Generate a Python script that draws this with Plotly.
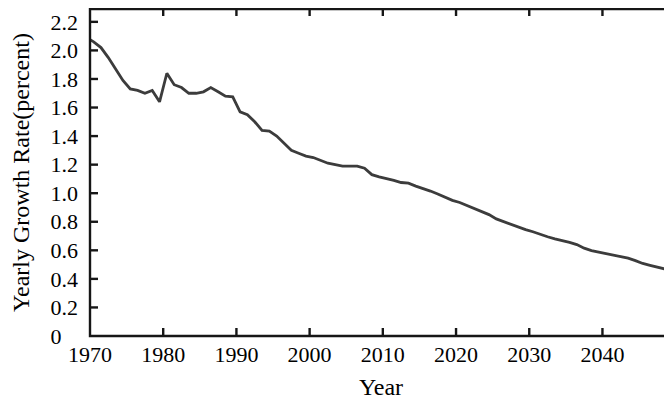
import plotly.graph_objects as go

# mid-year sample points
years = [y + 0.5 for y in range(1969, 2051)]
growth = [
    2.09, 2.06, 2.02, 1.95, 1.87, 1.79, 1.73, 1.72, 1.70, 1.72,
    1.64, 1.84, 1.76, 1.74, 1.70, 1.70, 1.71, 1.74, 1.71, 1.68,
    1.675, 1.57, 1.55, 1.50, 1.44, 1.435, 1.40, 1.35, 1.30, 1.28,
    1.26, 1.25, 1.23, 1.21, 1.20, 1.19, 1.19, 1.19, 1.175, 1.13,
    1.115, 1.105, 1.09, 1.075, 1.07, 1.05, 1.035, 1.015, 0.995, 0.97,
    0.95, 0.935, 0.915, 0.895, 0.875, 0.85, 0.82, 0.80, 0.78, 0.765,
    0.745, 0.73, 0.71, 0.695, 0.68, 0.67, 0.655, 0.64, 0.615, 0.598,
    0.588, 0.578, 0.565, 0.555, 0.545, 0.528, 0.508, 0.495, 0.48, 0.47,
    0.462, 0.45,
]

x_ticks = [1970, 1980, 1990, 2000, 2010, 2020, 2030, 2040]
y_ticks = [0, 0.2, 0.4, 0.6, 0.8, 1.0, 1.2, 1.4, 1.6, 1.8, 2.0, 2.2]
y_tick_text = ["0\u00a0\u00a0\u00a0", "0.2", "0.4", "0.6", "0.8", "1.0",
               "1.2", "1.4", "1.6", "1.8", "2.0", "2.2"]
x_range = [1970, 2049.5]
y_range = [0, 2.29]

FONT = "Liberation Serif"
FRAME = dict(color="#161616", width=2.4)

# ---- geometry (page body has an 8px margin) ----
FIG_W, FIG_H = 664, 393
M_L, M_B, M_T = 79, 62, 0
PA_W, PA_H = FIG_W - M_L, FIG_H - M_B - M_T  # outer (frame) plot area
PAD_L, PAD_B, PAD_T = 3, 3, 1                  # room so frame strokes are not clipped
in_w, in_h = PA_W - PAD_L, PA_H - PAD_B - PAD_T
ux = (x_range[1] - x_range[0]) / in_w          # data units per pixel
uy = (y_range[1] - y_range[0]) / in_h
x2_range = [x_range[0] - PAD_L * ux, x_range[1]]
y2_range = [y_range[0] - PAD_B * uy, y_range[1] + PAD_T * uy]

fig = go.Figure()
fig.add_trace(go.Scatter(
    x=years, y=growth, mode="lines",
    line=dict(color="#3c3c3c", width=2.8),
    showlegend=False, hoverinfo="skip",
))

# frame: top, left, bottom
xl, xr = x_range
yb, yt = y_range
fig.add_trace(go.Scatter(
    x=[xr, xl, xl, xr], y=[yt, yt, yb, yb], mode="lines",
    xaxis="x2", yaxis="y2",
    line=FRAME, showlegend=False, hoverinfo="skip",
))
# ticks
tx, ty = [], []
for xv in x_ticks[1:]:
    tx += [xv, xv, None, xv, xv, None]
    ty += [yb, yb + 8 * uy, None, yt, yt - 7 * uy, None]
for yv in y_ticks[1:]:
    tx += [xl, xl + 8 * ux, None, xr, xr - 3 * ux, None]
    ty += [yv, yv, None, yv, yv, None]
fig.add_trace(go.Scatter(
    x=tx, y=ty, mode="lines", xaxis="x2", yaxis="y2",
    line=FRAME, showlegend=False, hoverinfo="skip",
))

fig.update_layout(
    width=FIG_W, height=FIG_H,
    margin=dict(l=M_L, r=0, t=M_T, b=M_B, autoexpand=False),
    paper_bgcolor="white", plot_bgcolor="rgba(0,0,0,0)",
    font=dict(family=FONT, color="black", size=22),
    xaxis=dict(
        domain=[PAD_L / PA_W, 1], anchor="y",
        range=x_range,
        tickmode="array", tickvals=x_ticks,
        ticks="", showline=False, showgrid=False, zeroline=False,
        tickfont=dict(family=FONT, size=22),
        ticklabelstandoff=3,
        title=dict(text="Year", font=dict(family=FONT, size=24), standoff=12),
    ),
    yaxis=dict(
        domain=[PAD_B / PA_H, 1 - PAD_T / PA_H], anchor="x",
        range=y_range,
        tickmode="array", tickvals=y_ticks, ticktext=y_tick_text,
        ticks="", showline=False, showgrid=False, zeroline=False,
        tickfont=dict(family=FONT, size=22),
        ticklabelstandoff=11,
        title=dict(text="Yearly Growth Rate(percent)", font=dict(family=FONT, size=24), standoff=18),
    ),
    xaxis2=dict(domain=[0, 1], anchor="y2", range=x2_range, visible=False),
    yaxis2=dict(domain=[0, 1], anchor="x2", range=y2_range, visible=False),
)

fig.write_html("out.html")
